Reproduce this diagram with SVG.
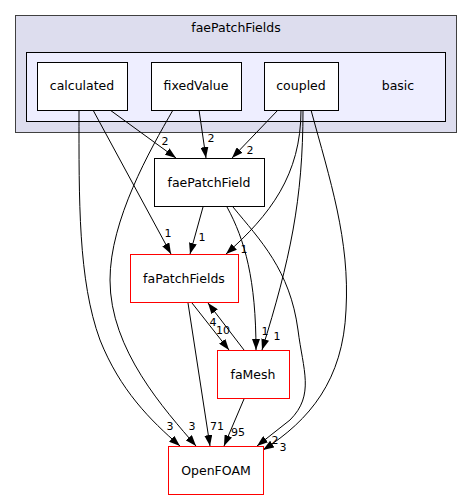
<svg xmlns="http://www.w3.org/2000/svg" width="472" height="500" viewBox="0 0 472 500">
<defs>
<style>
text{font-family:"DejaVu Sans","Liberation Sans",sans-serif;fill:#000}
.n{font-size:12.5px;text-anchor:middle}
.l{font-size:11px;text-anchor:middle}
.box{fill:#fff;stroke:#000;stroke-width:1}
.red{fill:#fff;stroke:#ff0000;stroke-width:1}
.e{fill:none;stroke:#000;stroke-width:1;marker-end:url(#arr)}
</style>
<marker id="arr" viewBox="0 0 11 8" refX="11" refY="4" markerWidth="11" markerHeight="8" markerUnits="userSpaceOnUse" orient="auto">
<path d="M0,0 L11,4 L0,8 z" fill="#000"/>
</marker>
</defs>
<rect width="472" height="500" fill="#fff"/>
<g id="cluster_faePatchFields">
<rect x="15.5" y="15.5" width="441" height="117" fill="#ddddee" stroke="#404040"/>
<text class="n" x="236" y="32">faePatchFields</text>
</g>
<g id="cluster_basic">
<rect x="26.5" y="52.5" width="419" height="69" fill="#eeeeff" stroke="#000"/>
<text class="n" x="398" y="90">basic</text>
</g>
<g id="connectors">
<path class="e" d="M110,110 L176,158"/>
<text class="l" x="165" y="145">2</text>
<path class="e" d="M199,110 L206,158"/>
<text class="l" x="211" y="142">2</text>
<path class="e" d="M278,110 L232,158"/>
<text class="l" x="250" y="154">2</text>
<path class="e" d="M93,110 L171,254"/>
<text class="l" x="168" y="237">1</text>
<path class="e" d="M203,207 L190,254"/>
<text class="l" x="202" y="241">1</text>
<path class="e" d="M301,110 C301,175 270,215 226,254"/>
<text class="l" x="244" y="253">1</text>
<path class="e" d="M173,110 C150,150 110,220 110,280 C110,350 165,410 196,446"/>
<text class="l" x="192" y="430">3</text>
<path class="e" d="M79,110 C79,200 78,280 100,340 C120,390 150,420 180,446"/>
<text class="l" x="170" y="430">3</text>
<path class="e" d="M188,303 L210,446"/>
<text class="l" x="217" y="430">71</text>
<path class="e" d="M244,399 L224,446"/>
<text class="l" x="238" y="436">95</text>
<path class="e" d="M233,207 C260,240 290,270 298,330 C303,370 315,395 290,420 L257,446"/>
<text class="l" x="275" y="444">2</text>
<path class="e" d="M311,110 C330,180 350,240 346,310 C343,380 310,420 263,450"/>
<text class="l" x="283" y="451">3</text>
<path class="e" d="M227,207 C245,240 256,280 256,350"/>
<text class="l" x="265" y="335">1</text>
<path class="e" d="M303,110 C303,200 290,260 262,350"/>
<text class="l" x="277" y="340">1</text>
<path class="e" d="M192,303 L229,350"/>
<text class="l" x="223" y="334">10</text>
<path class="e" d="M244,350 L208,303"/>
<text class="l" x="213" y="326">4</text>
</g>
<g id="calculated">
<rect class="box" x="37.5" y="62.5" width="90" height="48"/>
<text class="n" x="82" y="90">calculated</text>
</g>
<g id="fixedValue">
<rect class="box" x="151.5" y="62.5" width="90" height="48"/>
<text class="n" x="196" y="90">fixedValue</text>
</g>
<g id="coupled">
<rect class="box" x="264.5" y="62.5" width="74" height="48"/>
<text class="n" x="301" y="90">coupled</text>
</g>
<g id="faePatchField">
<rect class="box" x="154.5" y="158.5" width="110" height="48"/>
<text class="n" x="209" y="187">faePatchField</text>
</g>
<g id="faPatchFields">
<rect class="red" x="130.5" y="254.5" width="108" height="48"/>
<text class="n" x="184" y="283">faPatchFields</text>
</g>
<g id="faMesh">
<rect class="red" x="217.5" y="350.5" width="72" height="48"/>
<text class="n" x="253" y="379">faMesh</text>
</g>
<g id="OpenFOAM">
<rect class="red" x="168.5" y="446.5" width="95" height="48"/>
<text class="n" x="216" y="475">OpenFOAM</text>
</g>
</svg>
